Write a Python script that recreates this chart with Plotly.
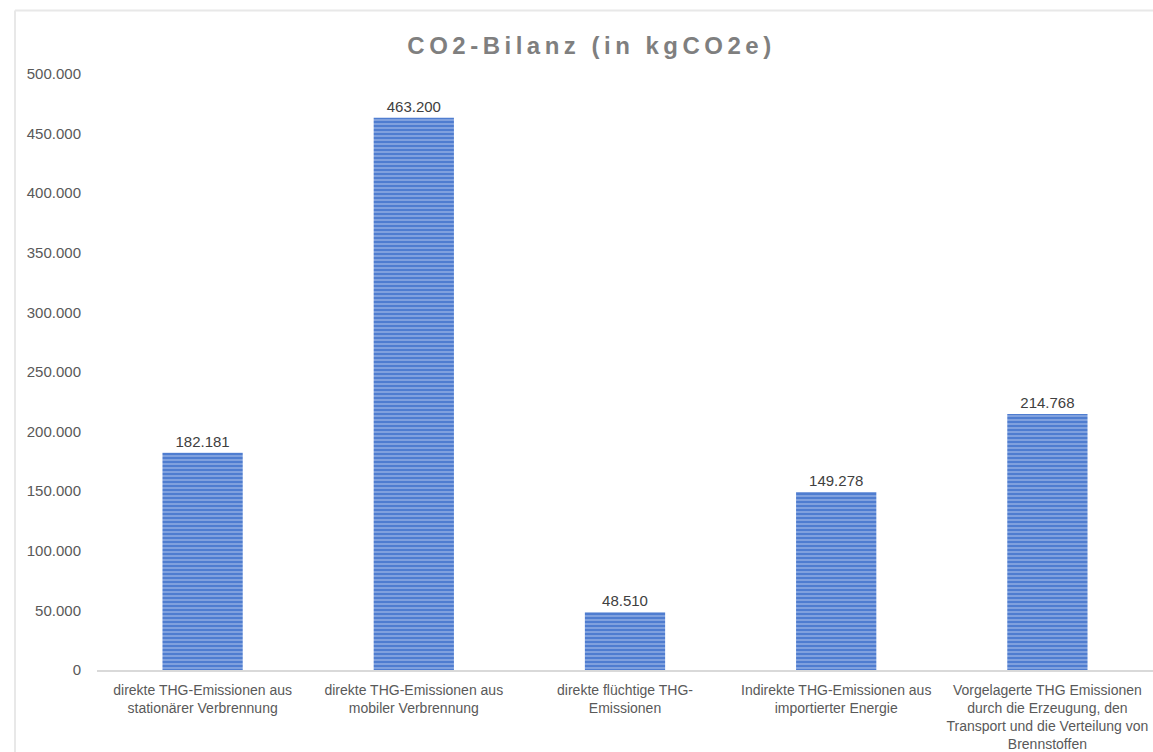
import plotly.graph_objects as go

categories = [
    "direkte THG-Emissionen aus<br>stationärer Verbrennung",
    "direkte THG-Emissionen aus<br>mobiler Verbrennung",
    "direkte flüchtige THG-<br>Emissionen",
    "Indirekte THG-Emissionen aus<br>importierter Energie",
    "Vorgelagerte THG Emissionen<br>durch die Erzeugung, den<br>Transport und die Verteilung von<br>Brennstoffen",
]
values = [182181, 463200, 48510, 149278, 214768]
tick_vals = [0, 50000, 100000, 150000, 200000, 250000, 300000, 350000, 400000, 450000, 500000]

L, T, W, H = 97, 74, 1056, 600
FONT = "Liberation Sans, Arial"

fig = go.Figure(go.Bar(
    x=categories, y=values,
    marker=dict(
        color="#4F7DD0",
        line=dict(width=0),
        pattern=dict(shape="-", fgcolor="#B2C6EC", bgcolor="#4F7DD0", size=4, solidity=0.5),
    ),
    texttemplate="%{y:,}", textposition="outside",
    textfont=dict(family=FONT, size=15, color="#404040"),
    cliponaxis=False,
))

fig.update_layout(
    width=1153, height=752,
    margin=dict(l=L, r=0, t=T, b=752 - T - H),
    paper_bgcolor="white", plot_bgcolor="white",
    separators=",.",
    bargap=0.62,
    showlegend=False,
    title=dict(text="<b>CO2-Bilanz (in kgCO2e)</b>", x=0.513, xanchor="center", y=0.94, yanchor="middle",
               font=dict(family=FONT, size=24, color="#7F7F7F")),
    xaxis=dict(showline=True, linecolor="#D9D9D9", linewidth=2, showgrid=False, ticks="",
               ticklabelstandoff=6,
               tickfont=dict(family=FONT, size=14, color="#595959")),
    yaxis=dict(range=[0, 500000], tickvals=tick_vals, tickformat=",d", showgrid=False, zeroline=False,
               showline=False, ticks="", ticklabelstandoff=15,
               tickfont=dict(family=FONT, size=15, color="#595959")),
    shapes=[
        dict(type="line", xref="paper", yref="paper",
             x0=(15 - L) / W, x1=1.0, y0=1 + (T - 10) / H, y1=1 + (T - 10) / H,
             line=dict(color="#E8E8E8", width=2)),
        dict(type="line", xref="paper", yref="paper",
             x0=(15 - L) / W, x1=(15 - L) / W, y0=1 + (T - 10) / H, y1=-0.2,
             line=dict(color="#E8E8E8", width=2)),
    ],
)

post = """
var st=document.createElement('style');
st.textContent='html,body{margin:0!important;padding:0!important;overflow:hidden!important;}';
document.head.appendChild(st);
var t=document.querySelector('.gtitle');
if(t){t.style.letterSpacing='4.5px';}
"""
fig.write_html("out.html", post_script=post, config={"displayModeBar": False})
